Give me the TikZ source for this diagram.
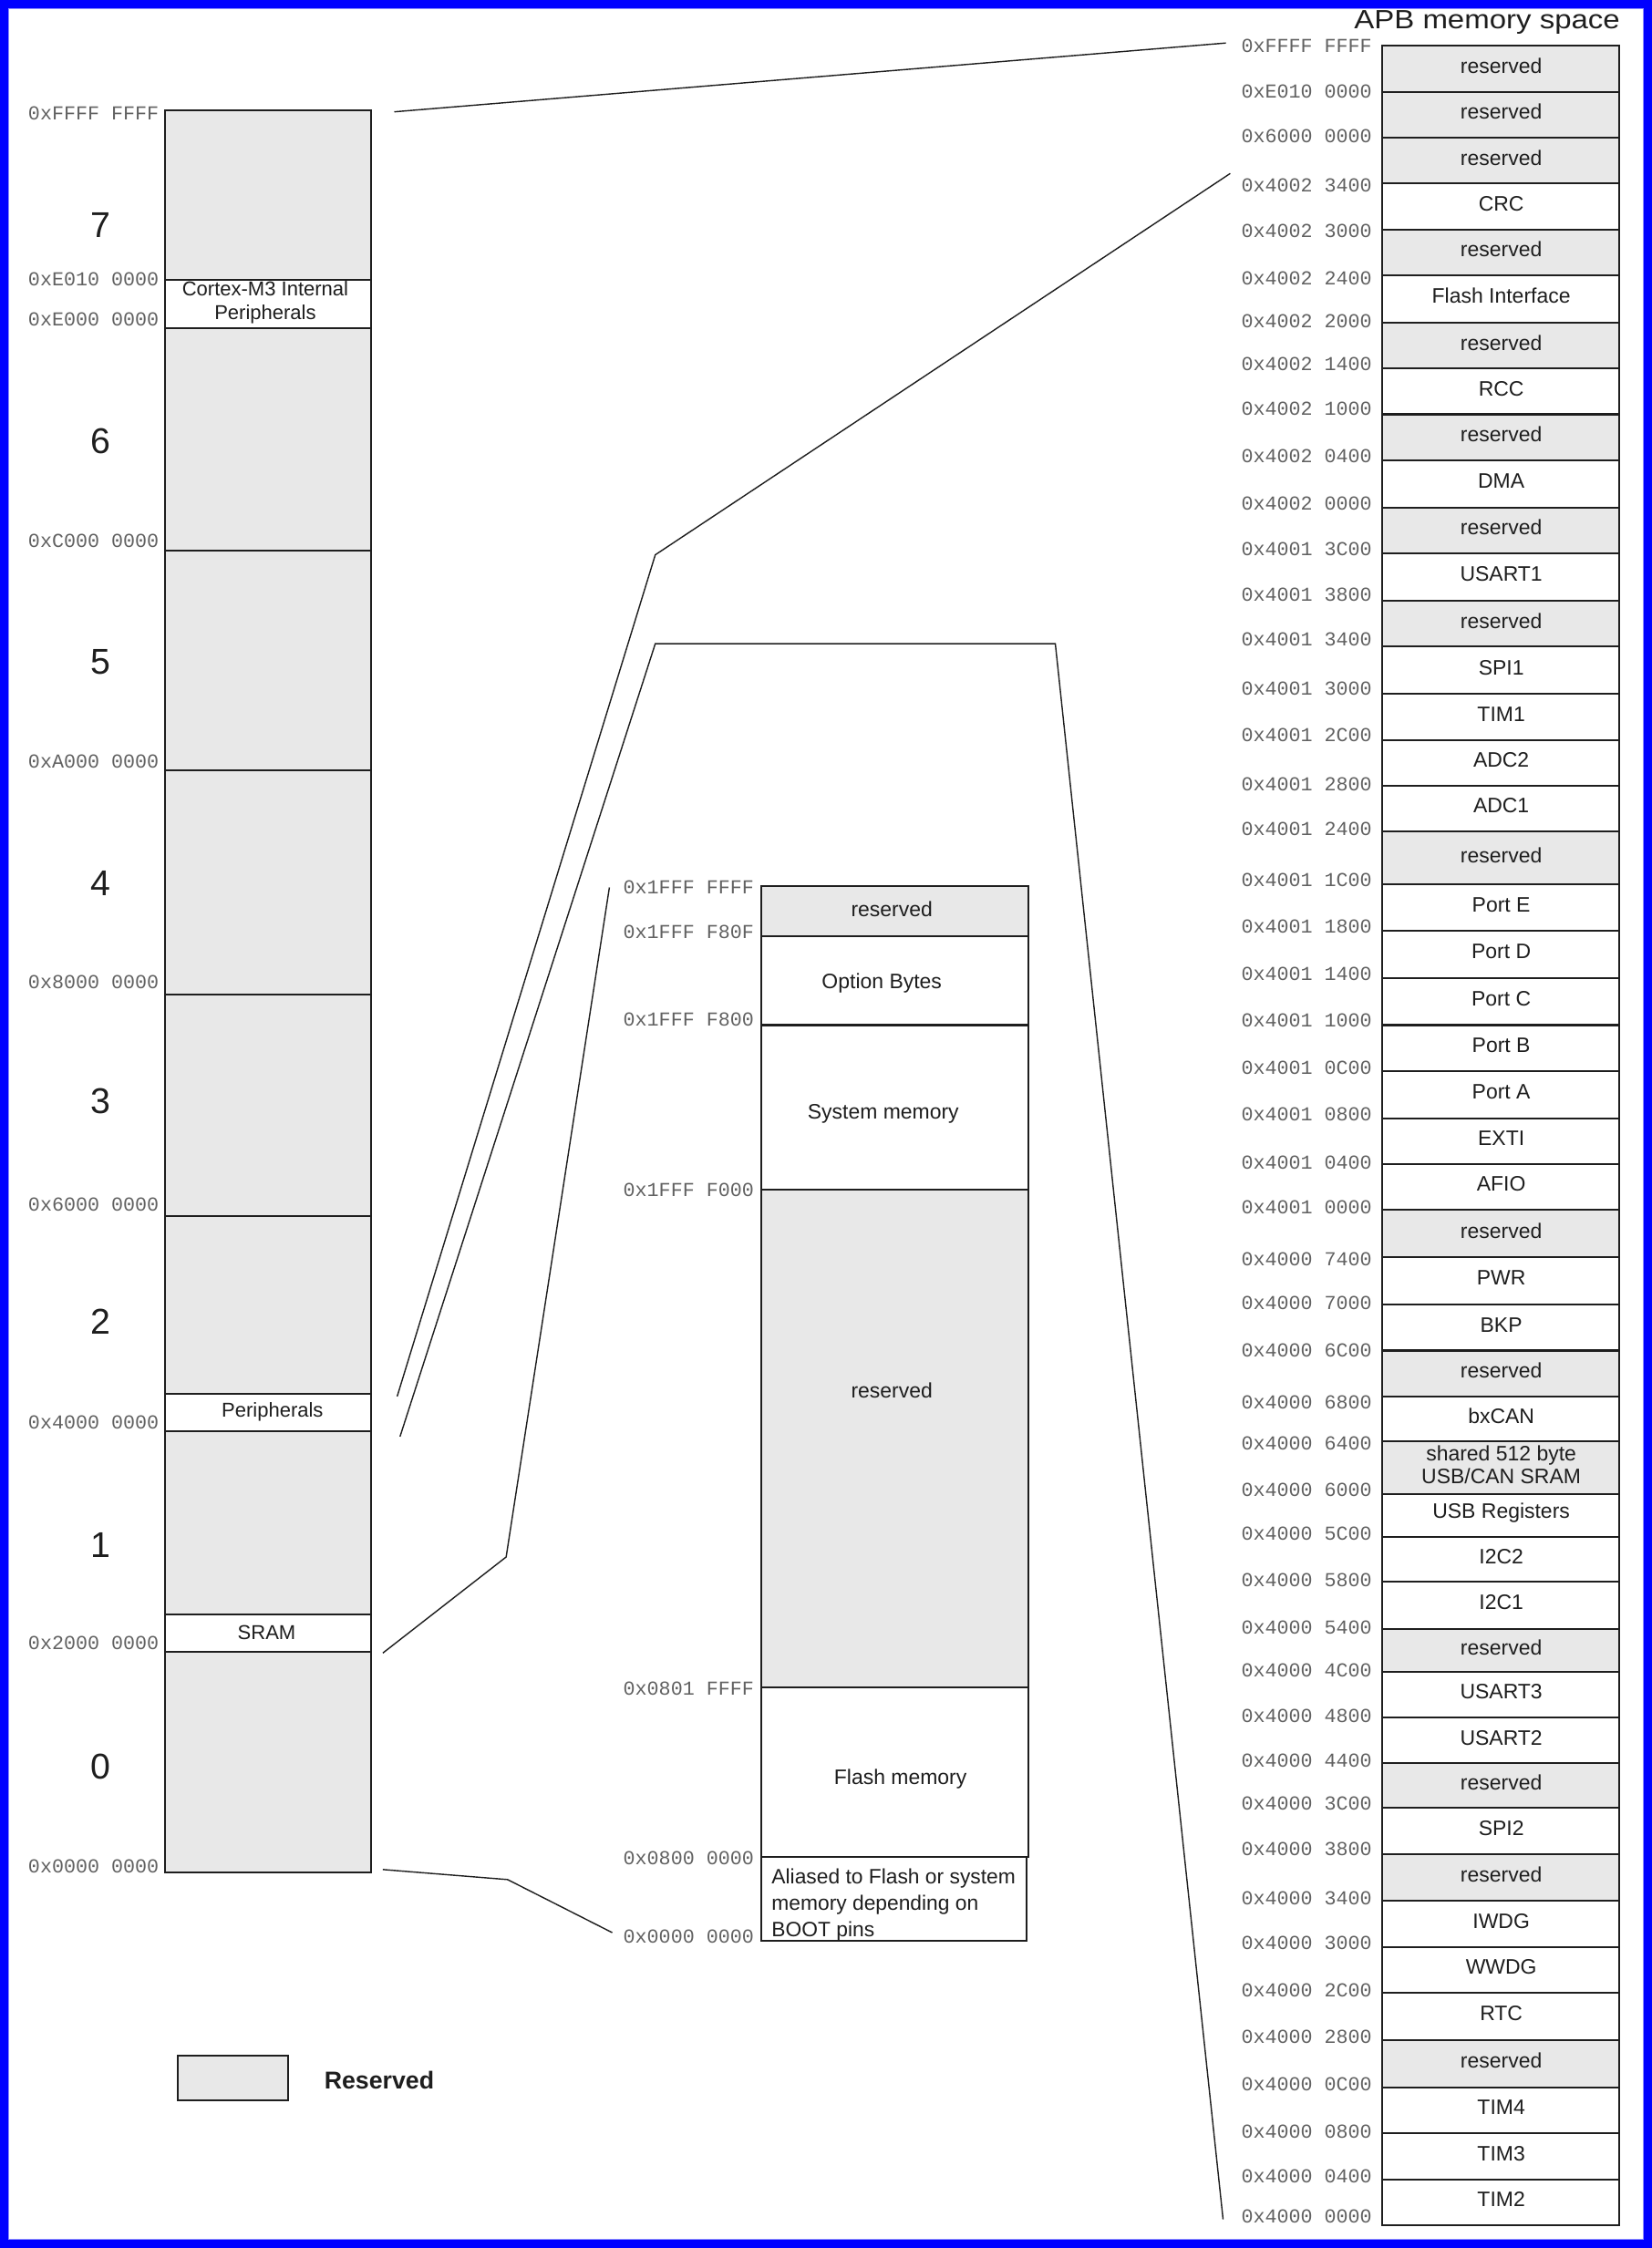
\documentclass[tikz,border=0pt]{standalone}
\usepackage{graphicx}
\usepackage{fontspec}
\setmainfont{Liberation Sans}
\newfontfamily\addrfont{Liberation Mono}
\usetikzlibrary{positioning}
\definecolor{resvGray}{RGB}{232,232,232}
\definecolor{inkDark}{RGB}{30,30,30}
\definecolor{frameBlue}{RGB}{0,0,255}
\definecolor{frameTint}{RGB}{140,140,255}

\begin{document}
\begin{tikzpicture}[x=1pt, y=-1pt,
    resv/.style={draw=inkDark, fill=resvGray, line width=1.3pt},
    free/.style={draw=inkDark, fill=white, line width=1.3pt},
    lbl/.style={font=\fontsize{14.6}{16}\selectfont, text=inkDark, inner sep=0pt, align=center},
    addr/.style={font=\addrfont\fontsize{13.8}{14}\selectfont, text=black!62, anchor=east, inner sep=0pt},
    region/.style={font=\fontsize{25}{28}\selectfont, text=inkDark, inner sep=0pt},
    link/.style={draw=inkDark, line width=0.9pt}]
        \useasboundingbox (0,0) rectangle (1152,1568);
        \draw[frameBlue, line width=5.7pt] (2.85,2.85) rectangle (1149.15,1565.15);
        \draw[frameTint, line width=0.6pt] (6,6) rectangle (1146,1562);

        % full 4GB map
        \foreach \ya/\yb/\st in {77/195/resv, 195/229/free, 229/384/resv, 384/537/resv,
            537/694/resv, 694/848/resv, 848/972/resv, 972/998/free, 998/1126/resv,
            1126/1152/free, 1152/1306/resv}{
          \draw[\st] (115,\ya) rectangle (259,\yb);
        }
        \foreach \n/\y in {7/157, 6/308, 5/462, 4/616, 3/768, 2/922, 1/1078, 0/1232}{
          \node[region] (reg\n) at (70,\y) {\n};
        }
        \foreach \y/\hx [count=\i] in {79/FFFF FFFF, 195/E010 0000, 223/E000 0000,
            377/C000 0000, 531/A000 0000, 685/8000 0000, 840/6000 0000,
            992/4000 0000, 1146/2000 0000, 1302/0000 0000}{
          \node[addr] (la\i) at (111,\y) {0x\hx};
        }
        \node[lbl, font=\fontsize{14}{16}\selectfont] (cortex) at (185,211) {Cortex-M3 Internal\\Peripherals};
        \node[lbl, font=\fontsize{14}{16}\selectfont] (periph) at (190,985) {Peripherals};
        \node[lbl, font=\fontsize{14}{16}\selectfont] (sram) at (186,1139) {SRAM};

        % code area
        \foreach \ya/\yb/\st in {618/653/resv, 653/715/free, 715/830/free,
            830/1177/resv, 1177/1295/free}{
          \draw[\st] (531,\ya) rectangle (717,\yb);
        }
        \draw[free] (531,1295) rectangle (716,1354);
        \node[lbl] (mresv1) at (622,634) {reserved};
        \node[lbl] (optb) at (615,686) {Option Bytes};
        \node[lbl] (sysmem) at (616,777) {System memory};
        \node[lbl] (mresv2) at (622,970) {reserved};
        \node[lbl] (flash) at (628,1241) {Flash memory};
        \node[lbl, anchor=base west, font=\fontsize{14.5}{18.5}\selectfont] (alias) at (538,1314)
          {Aliased to Flash or system};
        \node[lbl, anchor=base west, font=\fontsize{14.5}{18.5}\selectfont] (alias2) at (538,1332.5) {memory depending on};
        \node[lbl, anchor=base west, font=\fontsize{14.5}{18.5}\selectfont] (alias3) at (538,1351) {BOOT pins};
        \foreach \y/\hx [count=\i] in {619/1FFF FFFF, 650/1FFF F80F, 711/1FFF F800,
            830/1FFF F000, 1178/0801 FFFF, 1296/0800 0000, 1351/0000 0000}{
          \node[addr] (ma\i) at (526,\y) {0x\hx};
        }

        % APB memory space
        \node[font=\fontsize{18.4}{20}\selectfont, text=inkDark, anchor=base east, inner sep=0pt]
          (apbtitle) at (1130,20) {\scalebox{1.14}[1]{APB memory space}};
        \foreach \ya/\yb/\txt/\st [count=\i] in {32/64/reserved/resv, 64/96/reserved/resv,
            96/128/reserved/resv, 128/160/CRC/free, 160/192/reserved/resv,
            192/225/Flash Interface/free, 225/257/reserved/resv, 257/289/RCC/free,
            289/321/reserved/resv, 321/354/DMA/free, 354/386/reserved/resv,
            386/419/USART1/free, 419/451/reserved/resv, 451/484/SPI1/free,
            484/516/TIM1/free, 516/548/ADC2/free, 548/580/ADC1/free,
            580/617/reserved/resv, 617/649/Port E/free, 649/682/Port D/free,
            682/715/Port C/free, 715/747/Port B/free, 747/780/Port A/free,
            780/812/EXTI/free, 812/844/AFIO/free, 844/877/reserved/resv,
            877/910/PWR/free, 910/942/BKP/free, 942/974/reserved/resv,
            974/1005/bxCAN/free, 1005/1042/{shared 512 byte\\USB/CAN SRAM}/resv,
            1042/1072/USB Registers/free, 1072/1103/I2C2/free, 1103/1136/I2C1/free,
            1136/1166/reserved/resv, 1166/1198/USART3/free, 1198/1230/USART2/free,
            1230/1261/reserved/resv, 1261/1293/SPI2/free, 1293/1326/reserved/resv,
            1326/1358/IWDG/free, 1358/1390/WWDG/free, 1390/1423/RTC/free,
            1423/1456/reserved/resv, 1456/1488/TIM4/free, 1488/1520/TIM3/free,
            1520/1552/TIM2/free}{
          \draw[\st] (964,\ya) rectangle (1129,\yb);
          \node[lbl] (apb\i) at (1047,{(\ya+\yb)/2-2}) {\txt};
        }
        \foreach \y/\hx [count=\i] in {32/FFFF FFFF, 64/E010 0000, 95/6000 0000,
            129/4002 3400, 161/4002 3000, 194/4002 2400, 224/4002 2000,
            254/4002 1400, 285/4002 1000, 318/4002 0400, 351/4002 0000,
            383/4001 3C00, 415/4001 3800, 446/4001 3400, 480/4001 3000,
            513/4001 2C00, 547/4001 2800, 578/4001 2400, 614/4001 1C00,
            646/4001 1800, 679/4001 1400, 712/4001 1000, 745/4001 0C00,
            777/4001 0800, 811/4001 0400, 842/4001 0000, 878/4000 7400,
            909/4000 7000, 942/4000 6C00, 978/4000 6800, 1007/4000 6400,
            1039/4000 6000, 1070/4000 5C00, 1102/4000 5800, 1135/4000 5400,
            1165/4000 4C00, 1197/4000 4800, 1228/4000 4400, 1258/4000 3C00,
            1290/4000 3800, 1324/4000 3400, 1355/4000 3000, 1388/4000 2C00,
            1421/4000 2800, 1454/4000 0C00, 1487/4000 0800, 1518/4000 0400,
            1546/4000 0000}{
          \node[addr] (ra\i) at (957,\y) {0x\hx};
        }

        % zoom lines
        \coordinate (topL) at (275,78);
        \coordinate (topR) at (855,30);
        \coordinate (perA) at (277,974);
        \coordinate (perAk) at (457,387);
        \coordinate (perAr) at (858,121);
        \coordinate (perB) at (279,1002);
        \coordinate (perBk) at (457,449);
        \coordinate (perBj) at (736,449);
        \coordinate (perBr) at (853,1548);
        \coordinate (sramL) at (267,1153);
        \coordinate (sramK) at (353,1086);
        \coordinate (sramR) at (425,619);
        \coordinate (bootL) at (267,1304);
        \coordinate (bootK) at (354,1311);
        \coordinate (bootR) at (427,1348);
        \draw[link] (topL) -- (topR);
        \draw[link] (perA) -- (perAk) -- (perAr);
        \draw[link] (perB) -- (perBk) -- (perBj) -- (perBr);
        \draw[link] (sramL) -- (sramK) -- (sramR);
        \draw[link] (bootL) -- (bootK) -- (bootR);

        % legend
        \draw[resv] (124,1434) rectangle (201,1465);
        \node[font=\bfseries\fontsize{17}{20}\selectfont, text=inkDark, anchor=west, inner sep=0pt]
          (legend) at (226,1451) {Reserved};
      \end{tikzpicture}
\end{document}
